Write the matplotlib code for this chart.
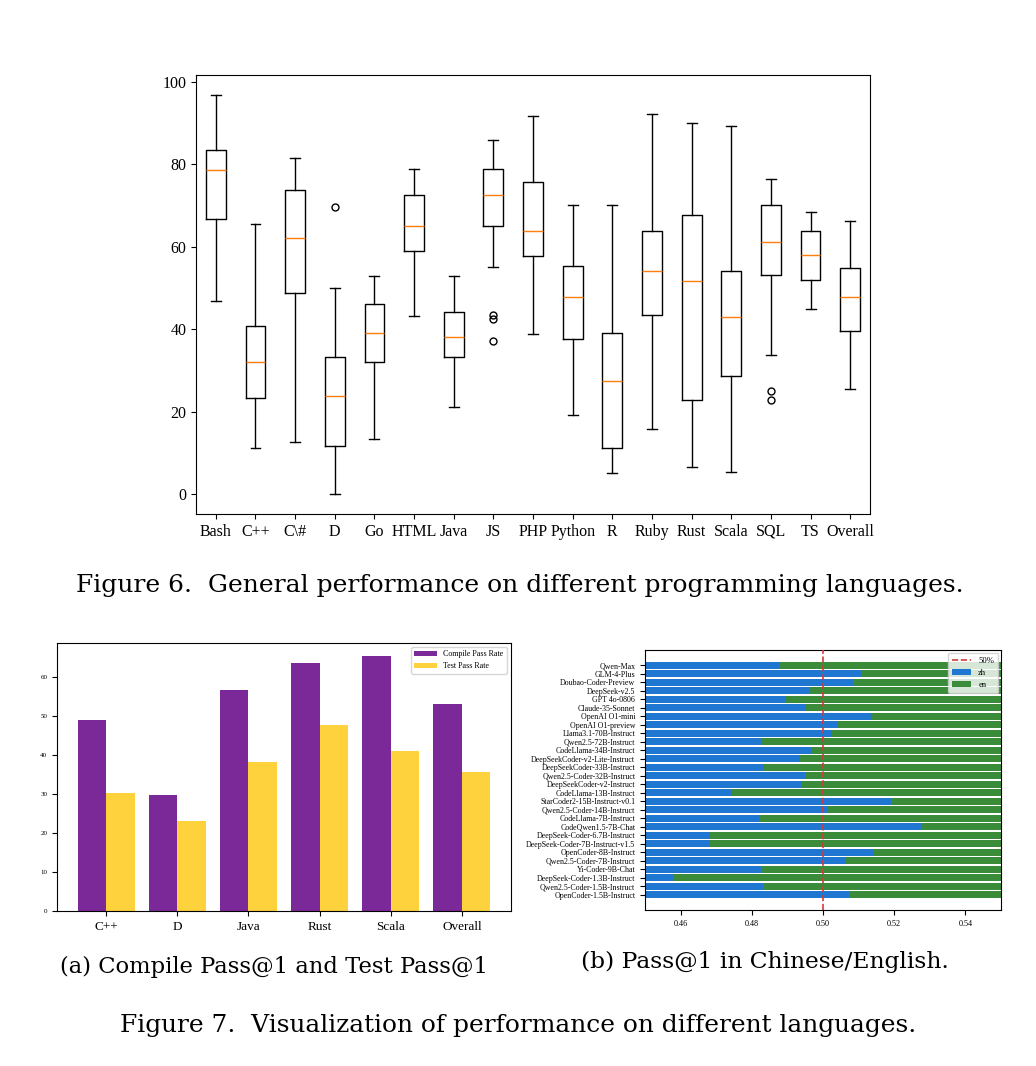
import matplotlib.pyplot as plt

plt.rcParams['font.family'] = ['Liberation Serif', 'DejaVu Serif']

# Figure 6 data: box stats per language (whislo, q1, med, q3, whishi, fliers)
languages = ['Bash', 'C++', 'C\\#', 'D', 'Go', 'HTML', 'Java', 'JS', 'PHP', 'Python',
             'R', 'Ruby', 'Rust', 'Scala', 'SQL', 'TS', 'Overall']
whislo = [46.8, 11.2, 12.6, 0.0, 13.3, 43.1, 21.0, 55.2, 38.9, 19.2, 5.0, 15.9, 6.6, 5.3, 33.7, 44.8, 25.4]
q1 = [66.7, 23.4, 48.8, 11.7, 32.0, 58.9, 33.3, 65.1, 57.7, 37.6, 11.2, 43.4, 22.9, 28.6, 53.2, 52.0, 39.6]
med = [78.5, 32.0, 62.1, 23.9, 39.1, 65.0, 38.2, 72.5, 63.9, 47.9, 27.5, 54.0, 51.8, 42.9, 61.2, 57.9, 47.9]
q3 = [83.4, 40.7, 73.8, 33.3, 46.0, 72.6, 44.1, 78.9, 75.6, 55.3, 39.1, 63.8, 67.6, 54.0, 70.1, 63.8, 54.8]
whishi = [96.8, 65.5, 81.4, 50.0, 53.0, 78.9, 52.8, 86.0, 91.7, 70.2, 70.1, 92.3, 90.1, 89.3, 76.4, 68.4, 66.2]
fliers = [[], [], [], [69.7], [], [], [], [43.5, 42.5, 37.2], [], [], [], [], [], [], [25.0, 22.7], [], []]

# Figure 7a data
bar_langs = ['C++', 'D', 'Java', 'Rust', 'Scala', 'Overall']
compile_rate = [49.0, 29.7, 56.7, 63.7, 65.5, 53.1]
test_rate = [30.4, 23.2, 38.2, 47.7, 41.0, 35.6]

# Figure 7b data: share of zh
models = ['Qwen-Max', 'GLM-4-Plus', 'Doubao-Coder-Preview', 'DeepSeek-v2.5', 'GPT 4o-0806',
          'Claude-35-Sonnet', 'OpenAI O1-mini', 'OpenAI O1-preview', 'Llama3.1-70B-Instruct',
          'Qwen2.5-72B-Instruct', 'CodeLlama-34B-Instruct', 'DeepSeekCoder-v2-Lite-Instruct',
          'DeepSeekCoder-33B-Instruct', 'Qwen2.5-Coder-32B-Instruct', 'DeepSeekCoder-v2-Instruct',
          'CodeLlama-13B-Instruct', 'StarCoder2-15B-Instruct-v0.1', 'Qwen2.5-Coder-14B-Instruct',
          'CodeLlama-7B-Instruct', 'CodeQwen1.5-7B-Chat', 'DeepSeek-Coder-6.7B-Instruct',
          'DeepSeek-Coder-7B-Instruct-v1.5', 'OpenCoder-8B-Instruct', 'Qwen2.5-Coder-7B-Instruct',
          'Yi-Coder-9B-Chat', 'DeepSeek-Coder-1.3B-Instruct', 'Qwen2.5-Coder-1.5B-Instruct',
          'OpenCoder-1.5B-Instruct']
zh_share = [0.4875, 0.5108, 0.5085, 0.4964, 0.4897, 0.4952, 0.5138, 0.5042, 0.5025, 0.4826,
            0.4969, 0.4936, 0.4835, 0.4950, 0.4939, 0.4744, 0.5190, 0.5013, 0.4819, 0.5279,
            0.4683, 0.4681, 0.5144, 0.5066, 0.4826, 0.4581, 0.4831, 0.5074]

cap_font = 'DejaVu Serif'

fig = plt.figure(figsize=(10.36, 10.66), dpi=100)

# ---- Figure 6: boxplot
ax1 = fig.add_axes([0.1892, 0.5178, 0.6506, 0.4118])
stats = []
for i in range(len(languages)):
    stats.append({'label': languages[i], 'whislo': whislo[i], 'q1': q1[i], 'med': med[i],
                  'q3': q3[i], 'whishi': whishi[i], 'fliers': fliers[i]})
ax1.bxp(stats, showfliers=True, flierprops=dict(markersize=5))
ax1.tick_params(labelsize=11.5)

fig.text(0.502, 0.451, 'Figure 6.  General performance on different programming languages.',
         ha='center', va='center', fontsize=18, family=cap_font)

# ---- Figure 7a: grouped bars
ax2 = fig.add_axes([0.0550, 0.1454, 0.4382, 0.2514])
x = list(range(len(bar_langs)))
ax2.bar([i - 0.2 for i in x], compile_rate, width=0.4, color='#7b2899', label='Compile Pass Rate')
ax2.bar([i + 0.2 for i in x], test_rate, width=0.4, color='#fdd23d', label='Test Pass Rate')
ax2.set_xticks(x)
ax2.set_xticklabels(bar_langs, fontsize=9.5)
ax2.tick_params(axis='y', labelsize=5)
ax2.legend(loc='upper right', fontsize=5.8, handlelength=2.8)

fig.text(0.264, 0.093, '(a) Compile Pass@1 and Test Pass@1', ha='center', va='center',
         fontsize=16.3, family=cap_font)

# ---- Figure 7b: stacked horizontal bars
ax3 = fig.add_axes([0.6226, 0.1463, 0.3436, 0.2439])
y = list(range(len(models)))
ax3.axvline(0.5, color='#d43a3a', linestyle='--', linewidth=1.2, label='50%')
ax3.barh(y, zh_share, height=0.8, color='#1f77d2', label='zh')
ax3.barh(y, [1 - v for v in zh_share], left=zh_share, height=0.8, color='#3a8c3a', label='en')
ax3.set_xlim(0.45, 0.55)
ax3.set_yticks(y)
ax3.set_yticklabels(models, fontsize=5.7)
ax3.tick_params(axis='x', labelsize=5.9)
ax3.invert_yaxis()
ax3.legend(loc='upper right', fontsize=6.2, handlelength=2.2, labelspacing=0.45,
           borderpad=0.5, borderaxespad=0.3)
for l in ax3.get_lines():
    l.set_zorder(3)

fig.text(0.738, 0.098, '(b) Pass@1 in Chinese/English.', ha='center', va='center',
         fontsize=16.8, family=cap_font)

fig.text(0.5, 0.038, 'Figure 7.  Visualization of performance on different languages.',
         ha='center', va='center', fontsize=17.9, family=cap_font)

fig.savefig('out.png', dpi=100)
